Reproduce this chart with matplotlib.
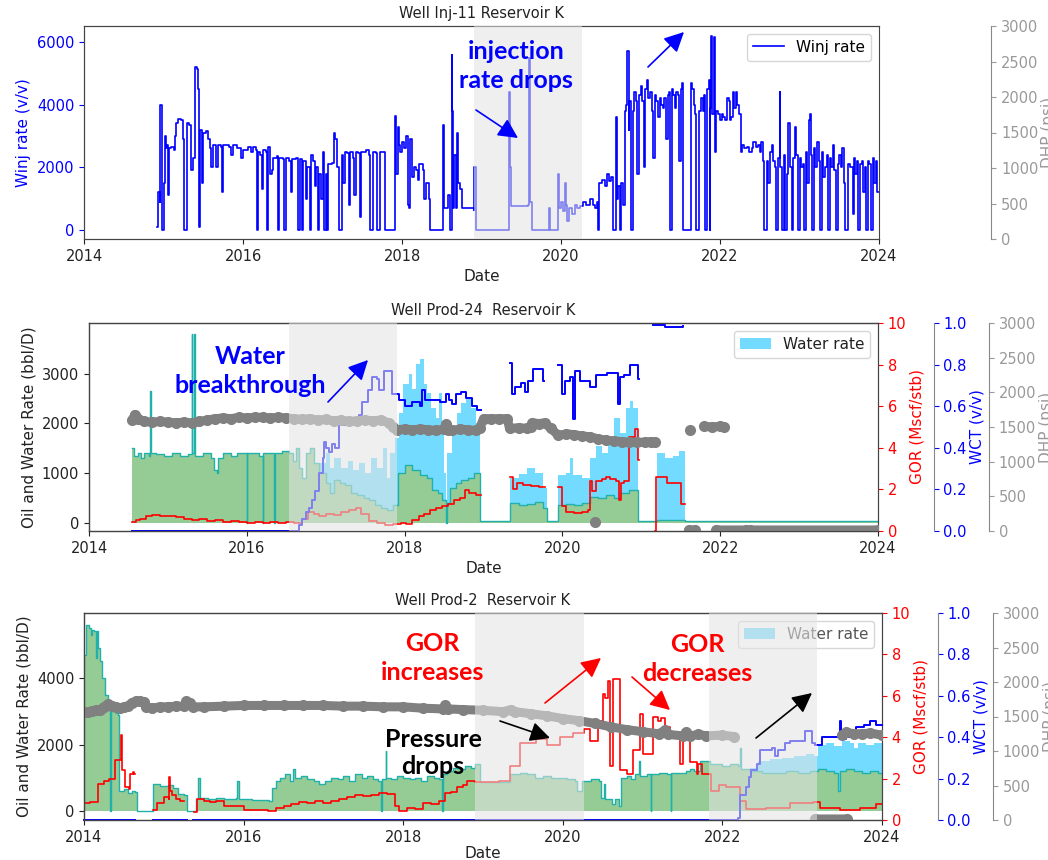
import numpy as np
import matplotlib.pyplot as plt
from matplotlib.patches import FancyArrowPatch, Patch

nan = np.nan
W, H = 1048, 860

# ---------------- Well Inj-11 : water injection rate (v/v) ----------------
inj11_winj = [
    (2014.92, 100), (2014.93, 1200), (2014.95, 900), (2014.96, 4000), (2014.975, 3700), (2014.985, 0),
    (2015.00, 1500), (2015.015, 3000), (2015.03, 2600), (2015.05, 2700), (2015.06, 1100), (2015.07, 2600),
    (2015.10, 2650), (2015.13, 2550), (2015.15, 3000), (2015.16, 3400), (2015.18, 3550), (2015.22, 3500),
    (2015.24, 2900), (2015.255, 0), (2015.29, 3400), (2015.32, 3350), (2015.34, 3200), (2015.35, 1900),
    (2015.37, 2300), (2015.39, 5200), (2015.42, 5150), (2015.44, 4500), (2015.45, 100), (2015.465, 3200),
    (2015.48, 1500), (2015.495, 3100), (2015.53, 3150), (2015.56, 2900), (2015.58, 2600), (2015.60, 2000),
    (2015.62, 2700), (2015.66, 2000), (2015.68, 2700), (2015.72, 2650), (2015.735, 1200), (2015.75, 2700),
    (2015.82, 2650), (2015.85, 2400), (2015.87, 2700), (2015.93, 2600), (2015.98, 2300), (2016.00, 2550),
    (2016.06, 2650), (2016.10, 2500), (2016.13, 2650), (2016.16, 2550), (2016.175, 0), (2016.19, 2500),
    (2016.22, 2400), (2016.24, 1300), (2016.255, 2550), (2016.29, 2500), (2016.30, 0), (2016.32, 2650),
    (2016.34, 1800), (2016.36, 1900), (2016.38, 2300), (2016.43, 2350), (2016.44, 0), (2016.455, 2300),
    (2016.50, 2250), (2016.52, 0), (2016.54, 2300), (2016.58, 2200), (2016.60, 1200), (2016.615, 2250),
    (2016.67, 2300), (2016.69, 0), (2016.715, 2250), (2016.74, 0), (2016.76, 2200), (2016.79, 1000),
    (2016.81, 2000), (2016.84, 0), (2016.86, 2400), (2016.88, 2200), (2016.90, 1400), (2016.92, 2000),
    (2016.94, 0), (2016.96, 1800), (2016.98, 1000), (2017.00, 2500), (2017.02, 0), (2017.04, 1800),
    (2017.06, 0), (2017.07, 2100), (2017.12, 2150), (2017.14, 3100), (2017.16, 2900), (2017.18, 2000),
    (2017.21, 0), (2017.24, 2400), (2017.26, 1500), (2017.28, 2500), (2017.31, 2450), (2017.33, 800),
    (2017.35, 2500), (2017.38, 2300), (2017.40, 1100), (2017.42, 2500), (2017.45, 2450), (2017.47, 400),
    (2017.49, 2500), (2017.55, 2550), (2017.58, 2400), (2017.60, 0), (2017.63, 2500), (2017.67, 2450),
    (2017.69, 0), (2017.72, 2500), (2017.78, 0), (2017.91, 3650), (2017.93, 1800), (2017.945, 3300),
    (2017.96, 2700), (2017.98, 2500), (2018.00, 2800), (2018.03, 2600), (2018.05, 3000), (2018.07, 800),
    (2018.09, 700), (2018.10, 2900), (2018.13, 1700), (2018.15, 2000), (2018.18, 1900), (2018.20, 1600),
    (2018.22, 2100), (2018.26, 1900), (2018.28, 1000), (2018.30, 1500), (2018.34, 1000), (2018.355, 0),
    (2018.52, 3350), (2018.53, 700), (2018.58, 1100), (2018.60, 0), (2018.625, 5600), (2018.635, 3800),
    (2018.645, 700), (2018.66, 2400), (2018.675, 700), (2018.69, 3100), (2018.70, 1500), (2018.73, 1300),
    (2018.75, 700), (2018.90, 650), (2018.91, 2000), (2018.925, 0), (2019.34, 4400), (2019.36, 2000),
    (2019.37, 750), (2019.58, 780), (2019.595, 5500), (2019.61, 900), (2019.64, 0), (2019.85, 700),
    (2019.86, 0), (2019.95, 0), (2019.96, 1800), (2019.975, 700), (2020.00, 900), (2020.03, 600),
    (2020.05, 1500), (2020.06, 800), (2020.08, 300), (2020.10, 700), (2020.14, 500), (2020.17, 800),
    (2020.20, 700), (2020.24, 750), (2020.28, 900), (2020.32, 800), (2020.36, 1000), (2020.40, 800),
    (2020.43, 700), (2020.45, 900), (2020.46, 0), (2020.48, 1500), (2020.52, 1600), (2020.55, 1400),
    (2020.58, 1800), (2020.60, 1550), (2020.63, 1700), (2020.65, 1400), (2020.66, 0), (2020.69, 3600),
    (2020.70, 1000), (2020.72, 1400), (2020.74, 0), (2020.76, 1500), (2020.78, 800), (2020.80, 3800),
    (2020.82, 4000), (2020.835, 5700), (2020.85, 3200), (2020.86, 4100), (2020.88, 0), (2020.90, 3800),
    (2020.92, 4400), (2020.94, 4100), (2020.96, 1800), (2020.98, 4300), (2021.00, 4600), (2021.02, 4100),
    (2021.04, 2000), (2021.06, 4500), (2021.08, 4800), (2021.10, 4200), (2021.12, 4400), (2021.14, 3800),
    (2021.16, 2300), (2021.18, 4300), (2021.20, 4100), (2021.22, 3600), (2021.24, 4200), (2021.26, 4000),
    (2021.28, 3900), (2021.30, 4200), (2021.32, 2900), (2021.34, 4300), (2021.36, 4400), (2021.37, 0),
    (2021.39, 4500), (2021.41, 4300), (2021.43, 3900), (2021.45, 4400), (2021.47, 4300), (2021.49, 2200),
    (2021.51, 4500), (2021.52, 4700), (2021.53, 0), (2021.63, 4700), (2021.65, 4500), (2021.67, 4000),
    (2021.69, 3700), (2021.70, 0), (2021.74, 3800), (2021.76, 4200), (2021.78, 3800), (2021.80, 4300),
    (2021.81, 0), (2021.84, 4500), (2021.86, 4800), (2021.87, 0), (2021.88, 3900), (2021.89, 6200),
    (2021.90, 3700), (2021.92, 6150), (2021.935, 2500), (2021.95, 3800), (2021.97, 3700), (2022.00, 3500),
    (2022.02, 3700), (2022.04, 3600), (2022.06, 3500), (2022.09, 4200), (2022.11, 4100), (2022.12, 3500),
    (2022.14, 3600), (2022.16, 4400), (2022.18, 3900), (2022.20, 4400), (2022.22, 4000), (2022.24, 3700),
    (2022.26, 2500), (2022.28, 2700), (2022.30, 2600), (2022.34, 2650), (2022.36, 2500), (2022.40, 2600),
    (2022.42, 2800), (2022.45, 2650), (2022.48, 2700), (2022.50, 2500), (2022.52, 2800), (2022.54, 2200),
    (2022.55, 0), (2022.59, 2200), (2022.61, 1500), (2022.63, 2500), (2022.65, 2700), (2022.67, 2200),
    (2022.69, 2000), (2022.70, 0), (2022.73, 2300), (2022.75, 4400), (2022.76, 2000), (2022.78, 0),
    (2022.80, 2400), (2022.82, 0), (2022.84, 1800), (2022.86, 3400), (2022.88, 2000), (2022.90, 0),
    (2022.92, 2300), (2022.94, 3300), (2022.96, 2400), (2022.98, 0), (2023.00, 2300), (2023.02, 2000),
    (2023.04, 2100), (2023.06, 0), (2023.08, 2500), (2023.10, 1500), (2023.12, 3500), (2023.13, 3700),
    (2023.14, 2400), (2023.16, 0), (2023.18, 2600), (2023.20, 2000), (2023.22, 2800), (2023.24, 2200),
    (2023.26, 0), (2023.28, 2500), (2023.30, 1700), (2023.32, 2000), (2023.34, 2400), (2023.36, 0),
    (2023.38, 2300), (2023.40, 2000), (2023.42, 2700), (2023.44, 1900), (2023.46, 0), (2023.48, 2100),
    (2023.50, 2400), (2023.52, 2000), (2023.54, 2600), (2023.56, 1500), (2023.57, 0), (2023.61, 2100),
    (2023.63, 2000), (2023.65, 2000), (2023.67, 500), (2023.68, 2300), (2023.70, 1800), (2023.72, 2200),
    (2023.74, 0), (2023.76, 2100), (2023.78, 2200), (2023.80, 1200), (2023.82, 2000), (2023.84, 0),
    (2023.86, 2200), (2023.88, 2100), (2023.90, 0), (2023.92, 2300), (2023.94, 1500), (2023.96, 2200),
    (2023.98, 1200), (2024.00, 1200),
]

# ---------------- Well Prod-24 ----------------
prod24_oil = [
    (2014.55, 1500), (2014.57, 1350), (2014.62, 1400), (2014.66, 1300), (2014.70, 1400), (2014.76, 1350),
    (2014.775, 2650), (2014.785, 1400), (2014.85, 1380), (2014.95, 1350), (2015.05, 1400), (2015.15, 1350),
    (2015.25, 1380), (2015.30, 3800), (2015.31, 1400), (2015.335, 3800), (2015.345, 1350), (2015.45, 1400),
    (2015.55, 1300), (2015.58, 1050), (2015.62, 1000), (2015.64, 1300), (2015.70, 1400), (2015.80, 1350),
    (2015.88, 1400), (2016.00, 0), (2016.005, 1400), (2016.15, 1350), (2016.20, 0), (2016.205, 1400),
    (2016.30, 1400), (2016.35, 0), (2016.355, 1400), (2016.45, 1450), (2016.53, 1400), (2016.58, 1250),
    (2016.62, 1500), (2016.66, 1100), (2016.70, 900), (2016.75, 1400), (2016.80, 1500), (2016.85, 1200),
    (2016.92, 1000), (2017.00, 800), (2017.05, 600), (2017.10, 850), (2017.18, 800), (2017.25, 750),
    (2017.32, 600), (2017.40, 550), (2017.48, 500), (2017.55, 450), (2017.62, 350), (2017.70, 300),
    (2017.78, 250), (2017.85, 350), (2017.92, 1000), (2018.00, 1150), (2018.10, 1050), (2018.20, 950),
    (2018.28, 900), (2018.35, 650), (2018.42, 600), (2018.48, 450), (2018.52, 0), (2018.535, 400),
    (2018.58, 700), (2018.65, 800), (2018.72, 850), (2018.80, 900), (2018.88, 1000), (2018.95, 30),
    (2019.34, 400), (2019.45, 350), (2019.55, 380), (2019.65, 420), (2019.75, 300), (2019.80, 30),
    (2019.94, 350), (2020.05, 380), (2020.15, 350), (2020.25, 400), (2020.35, 520), (2020.45, 500),
    (2020.55, 550), (2020.65, 500), (2020.73, 600), (2020.85, 650), (2020.96, 30), (2021.20, 60),
    (2021.55, 30), (2024.00, 30),
]
prod24_water = [
    (2014.55, 0), (2016.85, 800), (2016.92, 1200), (2017.00, 1400), (2017.05, 1100), (2017.10, 1300),
    (2017.20, 1100), (2017.28, 1250), (2017.35, 1050), (2017.42, 1200), (2017.50, 1000), (2017.58, 1300),
    (2017.65, 1100), (2017.72, 1500), (2017.78, 900), (2017.82, 1400), (2017.88, 1700), (2017.93, 2200),
    (2017.98, 2800), (2018.05, 3000), (2018.10, 2700), (2018.15, 3200), (2018.20, 3300), (2018.24, 2800),
    (2018.28, 2600), (2018.34, 2300), (2018.40, 2100), (2018.44, 2600), (2018.47, 1800), (2018.50, 1000),
    (2018.52, 0), (2018.54, 1400), (2018.60, 1800), (2018.66, 2200), (2018.72, 2400), (2018.78, 2500),
    (2018.84, 2300), (2018.90, 2000), (2018.95, 0), (2019.34, 900), (2019.45, 980), (2019.55, 1100),
    (2019.65, 1000), (2019.75, 700), (2019.80, 0), (2019.94, 950), (2020.05, 1000), (2020.10, 1300),
    (2020.13, 950), (2020.25, 900), (2020.35, 1300), (2020.42, 1550), (2020.50, 1400), (2020.58, 1700),
    (2020.65, 2100), (2020.73, 1800), (2020.80, 2300), (2020.86, 2450), (2020.90, 2300), (2020.96, 0),
    (2021.20, 1400), (2021.30, 1300), (2021.40, 1350), (2021.48, 1450), (2021.55, 0), (2024.00, 0),
]
prod24_gor = [
    (2014.55, 0.45), (2014.60, 0.55), (2014.65, 0.6), (2014.72, 0.7), (2014.80, 0.75), (2014.90, 0.7),
    (2015.00, 0.72), (2015.10, 0.65), (2015.20, 0.6), (2015.30, 0.55), (2015.40, 0.6), (2015.50, 0.5),
    (2015.60, 0.55), (2015.70, 0.45), (2015.80, 0.5), (2015.90, 0.45), (2016.00, 0.4), (2016.10, 0.45),
    (2016.20, 0.4), (2016.30, 0.42), (2016.40, 0.38), (2016.50, 0.45), (2016.60, 0.4), (2016.70, 0.6),
    (2016.78, 0.9), (2016.85, 0.8), (2016.92, 0.7), (2017.00, 0.8), (2017.10, 0.75), (2017.20, 0.9),
    (2017.30, 1.0), (2017.38, 1.1), (2017.45, 0.8), (2017.55, 0.5), (2017.65, 0.4), (2017.75, 0.3),
    (2017.85, 0.35), (2017.95, 0.4), (2018.02, 0.35), (2018.10, 0.55), (2018.18, 0.7), (2018.25, 0.8),
    (2018.32, 1.0), (2018.40, 1.1), (2018.48, 1.2), (2018.55, 1.3), (2018.62, 1.5), (2018.70, 1.6),
    (2018.76, 1.95), (2018.82, 1.85), (2018.90, 1.75), (2018.97, nan),
    (2019.34, 2.6), (2019.37, 2.0), (2019.42, 2.3), (2019.50, 2.2), (2019.60, 2.15), (2019.70, 2.1), (2019.78, nan),
    (2019.95, 2.1), (2020.00, 1.2), (2020.05, 0.9), (2020.15, 0.85), (2020.25, 0.9), (2020.32, 1.0),
    (2020.35, 2.4), (2020.38, 1.9), (2020.42, 2.4), (2020.50, 2.5), (2020.55, 2.6), (2020.60, 2.5),
    (2020.68, 2.4), (2020.72, 1.5), (2020.74, 2.3), (2020.78, 2.4), (2020.84, 4.5), (2020.92, 4.9),
    (2020.96, 3.4), (2020.97, nan),
    (2021.17, 0.0), (2021.19, 2.6), (2021.33, 2.3), (2021.50, 1.3), (2021.56, nan),
]
prod24_wct = [
    (2014.55, 0.0), (2016.62, 0.0), (2016.66, 0.03), (2016.70, 0.06), (2016.75, 0.09), (2016.79, 0.11),
    (2016.83, 0.15), (2016.87, 0.19), (2016.92, 0.28), (2016.96, 0.35), (2016.98, 0.43), (2017.00, 0.40),
    (2017.04, 0.38), (2017.08, 0.42), (2017.12, 0.40), (2017.17, 0.51), (2017.25, 0.52), (2017.38, 0.53),
    (2017.42, 0.56), (2017.46, 0.62), (2017.53, 0.68), (2017.59, 0.74), (2017.65, 0.73), (2017.68, 0.68),
    (2017.74, 0.77), (2017.82, 0.77), (2017.84, 0.66), (2017.93, 0.63), (2018.00, 0.60), (2018.10, 0.62),
    (2018.20, 0.60), (2018.22, 0.68), (2018.26, 0.63), (2018.35, 0.63), (2018.45, 0.62), (2018.52, 0.66),
    (2018.56, 0.63), (2018.60, 0.61), (2018.65, 0.66), (2018.72, 0.67), (2018.78, 0.64), (2018.86, 0.60),
    (2018.92, 0.58), (2018.97, nan),
    (2019.34, 0.81), (2019.36, 0.66), (2019.40, 0.69), (2019.48, 0.71), (2019.52, 0.67), (2019.56, 0.72),
    (2019.63, 0.78), (2019.68, 0.78), (2019.75, 0.72), (2019.77, nan),
    (2019.95, 0.80), (2019.99, 0.66), (2020.03, 0.72), (2020.10, 0.74), (2020.14, 0.54), (2020.16, 0.77),
    (2020.22, 0.72), (2020.31, 0.72), (2020.35, 0.69), (2020.43, 0.75), (2020.56, 0.76), (2020.69, 0.76),
    (2020.71, 0.61), (2020.73, 0.74), (2020.78, 0.75), (2020.86, 0.80), (2020.94, 0.80), (2020.96, 0.73),
    (2020.97, nan),
    (2021.15, 0.99), (2021.30, 0.98), (2021.53, 0.985),
]
prod24_dhp = [
    (2014.55, 1600), (2014.58, 1680), (2014.62, 1620), (2014.70, 1580), (2014.80, 1570), (2014.90, 1580),
    (2015.00, 1570), (2015.10, 1560), (2015.20, 1570), (2015.30, 1560), (2015.40, 1580), (2015.50, 1600),
    (2015.60, 1620), (2015.70, 1630), (2015.80, 1620), (2015.90, 1640), (2016.00, 1630), (2016.10, 1640),
    (2016.20, 1640), (2016.30, 1630), (2016.40, 1640), (2016.50, 1630), (2016.60, 1620), (2016.70, 1610),
    (2016.80, 1620), (2016.90, 1600), (2017.00, 1610), (2017.10, 1590), (2017.20, 1600), (2017.30, 1580),
    (2017.40, 1590), (2017.50, 1600), (2017.60, 1590), (2017.70, 1600), (2017.80, 1560), (2017.85, 1500),
    (2017.90, 1460), (2018.00, 1470), (2018.10, 1460), (2018.20, 1470), (2018.30, 1460), (2018.40, 1450),
    (2018.50, 1470), (2018.52, 1540), (2018.55, 1460), (2018.60, 1450), (2018.70, 1470), (2018.80, 1460),
    (2018.90, 1450), (2018.95, 1480), (2019.00, 1620), (2019.10, 1620), (2019.20, 1620), (2019.30, 1620),
    (2019.33, 1480), (2019.45, 1490), (2019.55, 1480), (2019.60, 1500), (2019.62, 1560), (2019.70, 1550),
    (2019.78, 1560), (2019.85, 1480), (2019.95, 1380), (2020.05, 1400), (2020.15, 1390), (2020.25, 1370),
    (2020.35, 1360), (2020.45, 1330), (2020.55, 1310), (2020.65, 1300), (2020.75, 1290), (2020.85, 1280),
    (2020.95, 1280), (2021.05, 1280), (2021.12, 1290), (2021.17, 1280), (nan, nan),
    (2020.41, 130), (nan, nan), (2021.62, 1460), (nan, nan),
    (2021.80, 1510), (2021.90, 1500), (2022.00, 1510), (2022.05, 1500), (nan, nan),
    (2021.60, 15), (2021.68, 15), (nan, nan), (2021.95, 15), (2022.33, 15), (nan, nan),
    (2022.38, 15), (2024.00, 15),
]

# ---------------- Well Prod-2 ----------------
prod2_oil = [
    (2014.00, 4700), (2014.02, 5600), (2014.06, 5500), (2014.09, 5300), (2014.10, 5450), (2014.13, 5400),
    (2014.15, 4600), (2014.16, 5400), (2014.18, 4900), (2014.20, 4500), (2014.23, 4000), (2014.26, 3500),
    (2014.30, 3200), (2014.33, 0), (2014.34, 3000), (2014.40, 2950), (2014.42, 2900), (2014.44, 600),
    (2014.50, 650), (2014.55, 550), (2014.60, 600), (2014.64, 580), (2014.66, 0), (2014.87, 800),
    (2014.95, 750), (2015.05, 780), (2015.12, 700), (2015.18, 500), (2015.25, 480), (2015.29, 0),
    (2015.40, 350), (2015.43, 1000), (2015.45, 400), (2015.55, 350), (2015.65, 380), (2015.75, 350),
    (2015.90, 400), (2015.92, 900), (2015.94, 350), (2016.10, 320), (2016.20, 330), (2016.32, 300),
    (2016.36, 700), (2016.40, 900), (2016.45, 1000), (2016.52, 1100), (2016.58, 900), (2016.62, 1250),
    (2016.65, 1000), (2016.72, 1050), (2016.80, 950), (2016.88, 900), (2016.95, 800), (2017.02, 900),
    (2017.10, 1000), (2017.18, 950), (2017.25, 1050), (2017.32, 900), (2017.40, 1100), (2017.48, 1000),
    (2017.55, 1050), (2017.62, 950), (2017.68, 900), (2017.72, 0), (2017.74, 950), (2017.78, 1800),
    (2017.79, 1000), (2017.85, 950), (2017.92, 1050), (2018.00, 1000), (2018.08, 950), (2018.15, 1000),
    (2018.22, 900), (2018.30, 1050), (2018.38, 1000), (2018.45, 950), (2018.48, 0), (2018.50, 1100),
    (2018.55, 1200), (2018.62, 1300), (2018.70, 1250), (2018.78, 1350), (2018.85, 1300), (2018.90, 1400),
    (2018.96, 870), (2019.10, 880), (2019.25, 860), (2019.34, 1100), (2019.46, 1150), (2019.55, 1100),
    (2019.65, 1000), (2019.75, 1050), (2019.85, 1000), (2019.95, 1000), (2020.05, 950), (2020.15, 900),
    (2020.18, 600), (2020.24, 900), (2020.35, 950), (2020.45, 900), (2020.48, 400), (2020.52, 800),
    (2020.53, 350), (2020.58, 350), (2020.62, 200), (2020.66, 350), (2020.70, 150), (2020.73, 1000),
    (2020.80, 1050), (2020.85, 950), (2020.90, 1100), (2020.95, 1500), (2020.97, 1050), (2021.05, 1100),
    (2021.10, 0), (2021.11, 1100), (2021.20, 1150), (2021.30, 1100), (2021.35, 0), (2021.36, 1150),
    (2021.45, 1150), (2021.55, 1200), (2021.60, 1250), (2021.65, 1200), (2021.72, 1500), (2021.84, 1400),
    (2021.90, 1400), (2022.00, 1350), (2022.10, 1400), (2022.20, 1350), (2022.22, 1900), (2022.23, 1250),
    (2022.35, 1200), (2022.50, 1150), (2022.65, 1150), (2022.80, 1200), (2022.95, 1150), (2023.10, 1200),
    (2023.20, 1250), (2023.30, 1200), (2023.40, 1150), (2023.45, 600), (2023.47, 1200), (2023.55, 1250),
    (2023.65, 1200), (2023.75, 1150), (2023.85, 1200), (2023.95, 1150), (2024.00, 1150),
]
prod2_water = [
    (2014.00, 0), (2022.18, 0), (2022.20, 300), (2022.28, 700), (2022.35, 1300), (2022.45, 1500),
    (2022.60, 1550), (2022.75, 1600), (2022.90, 1650), (2023.05, 1700), (2023.15, 1650), (2023.20, 2000),
    (2023.30, 2050), (2023.40, 1950), (2023.50, 2100), (2023.60, 2050), (2023.65, 1900), (2023.70, 2050),
    (2023.80, 2000), (2023.90, 2050), (2024.00, 2050),
]
prod2_gor = [
    (2014.00, 0.8), (2014.08, 0.85), (2014.17, 1.75), (2014.25, 1.9), (2014.31, 2.0), (2014.39, 2.9),
    (2014.45, 2.9), (2014.46, 4.1), (2014.47, 2.4), (2014.52, 1.6), (2014.56, 1.5), (2014.58, 2.2),
    (2014.61, 2.3), (2014.63, 2.2), (2014.64, nan),
    (2014.87, 0.5), (2014.92, 0.8), (2015.00, 1.1), (2015.06, 1.0), (2015.065, 2.1), (2015.075, 1.4),
    (2015.10, 1.2), (2015.15, 1.0), (2015.20, 0.9), (2015.25, nan),
    (2015.38, 0.4), (2015.42, 1.0), (2015.50, 0.9), (2015.58, 0.85), (2015.65, 0.9), (2015.75, 0.7),
    (2015.85, 0.7), (2016.00, 0.5), (2016.10, 0.5), (2016.20, 0.5), (2016.30, 0.45), (2016.40, 0.6),
    (2016.50, 0.7), (2016.60, 0.75), (2016.70, 0.85), (2016.80, 0.8), (2016.90, 0.9), (2017.00, 0.8),
    (2017.10, 0.9), (2017.20, 1.0), (2017.30, 1.1), (2017.40, 1.2), (2017.50, 1.15), (2017.60, 1.2),
    (2017.70, 1.3), (2017.80, 1.25), (2017.90, 0.7), (2017.95, 0.45), (2018.05, 0.6), (2018.15, 0.55),
    (2018.25, 0.8), (2018.35, 0.75), (2018.45, 0.9), (2018.52, 1.3), (2018.60, 1.35), (2018.68, 1.6),
    (2018.75, 1.7), (2018.80, 1.9), (2018.90, 1.85), (2019.00, 1.85), (2019.20, 1.9), (2019.34, 2.6),
    (2019.46, 3.7), (2019.67, 3.9), (2019.80, 3.6), (2019.96, 4.0), (2020.13, 4.2), (2020.26, 4.4),
    (2020.34, 3.8), (2020.44, 4.8), (2020.50, 6.1), (2020.53, 5.9), (2020.57, 6.7), (2020.59, 2.6),
    (2020.63, 6.8), (2020.70, 6.8), (2020.72, 2.4), (2020.80, 2.2), (2020.88, 3.4), (2020.97, 5.1),
    (2021.00, 3.2), (2021.13, 5.0), (2021.19, 4.8), (2021.23, 4.95), (2021.28, 4.5), (2021.34, 4.0),
    (2021.47, 2.7), (2021.51, 3.9), (2021.59, 2.8), (2021.68, 2.2), (2021.70, 2.7), (2021.74, 2.2),
    (2021.86, 1.4), (2021.96, 1.7), (2022.05, 1.6), (2022.22, 0.9), (2022.30, 0.55), (2022.55, 0.6),
    (2022.85, 0.8), (2023.14, 0.85), (2023.22, 0.6), (2023.47, 0.5), (2023.72, 0.6), (2023.93, 0.75),
    (2024.00, 0.75),
]
prod2_wct = [
    (2014.00, 0.0), (2014.63, 0.0), (2014.64, nan), (2014.87, 0.0), (2015.28, 0.0), (2015.29, nan),
    (2015.36, 0.0), (2022.18, 0.0), (2022.20, 0.01), (2022.22, 0.12), (2022.27, 0.12), (2022.30, 0.16),
    (2022.33, 0.21), (2022.36, 0.24), (2022.43, 0.27), (2022.47, 0.34), (2022.55, 0.34), (2022.62, 0.35),
    (2022.66, 0.31), (2022.70, 0.34), (2022.78, 0.37), (2022.85, 0.38), (2023.00, 0.38), (2023.04, 0.43),
    (2023.10, 0.43), (2023.12, 0.37), (2023.16, 0.36), (2023.25, 0.40), (2023.47, 0.48), (2023.49, 0.39),
    (2023.55, 0.40), (2023.68, 0.45), (2023.77, 0.46), (2023.85, 0.48), (2023.93, 0.46), (2024.00, 0.46),
]
prod2_dhp = [
    (2014.00, 1570), (2014.05, 1560), (2014.10, 1580), (2014.15, 1590), (2014.20, 1600), (2014.25, 1640),
    (2014.30, 1680), (2014.35, 1650), (2014.40, 1640), (2014.45, 1620), (2014.50, 1640), (2014.55, 1650),
    (2014.60, 1700), (2014.65, 1720), (2014.70, 1720), (2014.75, 1710), (2014.78, 1640), (2014.85, 1620),
    (2014.95, 1640), (2015.05, 1640), (2015.15, 1650), (2015.25, 1650), (2015.28, 1720), (2015.33, 1700),
    (2015.36, 1640), (2015.50, 1640), (2015.75, 1650), (2016.00, 1660), (2016.25, 1660), (2016.50, 1660),
    (2016.75, 1660), (2017.00, 1660), (2017.25, 1650), (2017.50, 1650), (2017.75, 1640), (2018.00, 1640),
    (2018.25, 1620), (2018.50, 1610), (2018.53, 1660), (2018.56, 1610), (2018.75, 1600), (2019.00, 1590),
    (2019.25, 1570), (2019.35, 1600), (2019.40, 1570), (2019.60, 1540), (2019.80, 1510), (2020.00, 1470),
    (2020.20, 1440), (2020.40, 1400), (2020.60, 1350), (2020.80, 1310), (2021.00, 1280), (2021.20, 1250),
    (2021.28, 1300), (2021.32, 1240), (2021.50, 1220), (2021.55, 1270), (2021.60, 1220), (2021.70, 1240),
    (2021.80, 1220), (2022.00, 1230), (2022.14, 1210), (nan, nan),
    (2023.50, 1230), (2023.55, 1270), (2023.65, 1250), (2023.75, 1250), (2023.85, 1260), (2024.00, 1230),
    (nan, nan), (2023.16, 15), (2023.56, 15),
]

years = [2014, 2016, 2018, 2020, 2022, 2024]


def cols(series):
    arr = np.array(series, dtype=float)
    return arr[:, 0], arr[:, 1]


def px(x, y):
    return (x / W, 1 - y / H)


def box(left, top, right, bottom):
    return [left / W, 1 - bottom / H, (right - left) / W, (bottom - top) / H]


plt.rcParams['font.size'] = 10.5
plt.rcParams['axes.edgecolor'] = '#444444'
plt.rcParams['xtick.color'] = '#222222'
plt.rcParams['ytick.color'] = '#222222'

fig = plt.figure(figsize=(W / 100, H / 100), dpi=100)

SHADE = dict(color='#e4e4e4', alpha=0.56, lw=0, zorder=20)


def twin(ax, offset, color, label, ylim, ticks, spine_color='#888888'):
    tw = ax.twinx()
    if offset:
        tw.spines['right'].set_position(('outward', offset))
    tw.spines['right'].set_color(spine_color)
    tw.set_ylim(*ylim)
    tw.set_yticks(ticks)
    tw.tick_params(axis='y', colors=color, labelsize=10.5)
    tw.set_ylabel(label, color=color, fontsize=11, labelpad=2)
    return tw


def setup_x(ax, pad=4):
    ax.set_xlim(2014, 2024)
    ax.set_xticks(years)
    ax.set_xticklabels([str(y) for y in years])
    ax.set_xlabel('Date', fontsize=11, color='#222222', labelpad=pad)


# ---------------- panel 1 ----------------
ax1 = fig.add_axes(box(84, 26, 879, 239))
t, v = cols(inj11_winj)
ax1.plot(t, v, drawstyle='steps-post', color='blue', lw=1.2, label='Winj rate')
ax1.set_ylim(-290, 6510)
ax1.set_yticks([0, 2000, 4000, 6000])
ax1.tick_params(axis='y', colors='blue')
ax1.set_ylabel('Winj rate (v/v)', color='blue', fontsize=11)
setup_x(ax1)
ax1.set_title('Well Inj-11 Reservoir K', fontsize=10.5, color='#222222')
ax1.legend(loc='upper right', fontsize=11)
d1 = twin(ax1, 81, '#999999', 'DHP (psi)', (0, 3000), range(0, 3001, 500))
d1.axvspan(2018.9, 2020.27, **SHADE)


def production_panel(rect, title, oil, water, gor, wct, dhp, ylim, yticks, shades, leg_text, xpad):
    ax = fig.add_axes(rect)
    t, v = cols(water)
    ax.fill_between(t, 0, v, step='post', color='deepskyblue', alpha=0.55, lw=0)
    t, v = cols(oil)
    ax.fill_between(t, 0, v, step='post', color='#95cb95', lw=0)
    ax.plot(t, v, drawstyle='steps-post', color='lightseagreen', lw=1.0)
    ax.set_ylim(*ylim)
    ax.set_yticks(yticks)
    ax.set_ylabel('Oil and Water Rate (bbl/D)', fontsize=11, color='#222222')
    setup_x(ax, xpad)
    ax.set_title(title, fontsize=10.5, color='#222222')
    leg = ax.legend(handles=[Patch(color='deepskyblue', alpha=0.55, lw=0)], labels=['Water rate'],
                    loc='upper right', fontsize=11)
    for txt in leg.get_texts():
        txt.set_color(leg_text)

    g = twin(ax, 0, 'red', 'GOR (Mscf/stb)', (0, 10), range(0, 11, 2), spine_color='#444444')
    t, v = cols(gor)
    g.plot(t, v, drawstyle='steps-post', color='red', lw=1.2)

    w = twin(ax, 40, 'blue', 'WCT (v/v)', (0, 1), np.arange(0, 1.01, 0.2))
    w.set_yticklabels(['0.0', '0.2', '0.4', '0.6', '0.8', '1.0'])
    t, v = cols(wct)
    w.plot(t, v, drawstyle='steps-post', color='blue', lw=1.4, clip_on=False)

    d = twin(ax, 80, '#999999', 'DHP (psi)', (0, 3000), range(0, 3001, 500))
    t, v = cols(dhp)
    d.plot(t, v, color='gray', lw=6.5, marker='o', ms=7, solid_capstyle='round')
    for a, b in shades:
        d.axvspan(a, b, **SHADE)
    return ax


production_panel(box(89, 323, 878, 531), 'Well Prod-24  Reservoir K',
                 prod24_oil, prod24_water, prod24_gor, prod24_wct, prod24_dhp,
                 (-170, 4020), [0, 1000, 2000, 3000], [(2016.53, 2017.9)], '#222222', 4)

production_panel(box(84, 613, 882, 820), 'Well Prod-2  Reservoir K',
                 prod2_oil, prod2_water, prod2_gor, prod2_wct, prod2_dhp,
                 (-270, 5955), [0, 2000, 4000], [(2018.9, 2020.26), (2021.83, 2023.18)],
                 '#555555', 1)

# ---------------- annotations ----------------
TXT = dict(ha='center', va='center', fontsize=18, fontweight='bold', family='Lato')
fig.text(*px(516, 66), 'injection\nrate drops', color='blue', linespacing=1.3, **TXT)
fig.text(*px(250, 371), 'Water\nbreakthrough', color='blue', linespacing=1.3, **TXT)
fig.text(*px(432, 658), 'GOR\nincreases', color='red', linespacing=1.3, **TXT)
fig.text(*px(433, 753), 'Pressure\ndrops', color='black', linespacing=1.2, **TXT)
fig.text(*px(697, 659), 'GOR\ndecreases', color='red', linespacing=1.3, **TXT)

arrows = [
    ((476, 110), (518, 138), 'blue'),
    ((648, 67), (684, 32), 'blue'),
    ((328, 402), (368, 360), 'blue'),
    ((545, 703), (601, 658), 'red'),
    ((632, 677), (670, 710), 'red'),
    ((500, 721), (550, 738), 'black'),
    ((756, 738), (812, 693), 'black'),
]
for a, b, c in arrows:
    fig.add_artist(FancyArrowPatch(px(*a), px(*b), transform=fig.transFigure,
                                   arrowstyle='-|>,head_length=0.6,head_width=0.3',
                                   mutation_scale=20, color=c, lw=1.2,
                                   shrinkA=0, shrinkB=0, zorder=30))

fig.savefig('out.png', dpi=100)
